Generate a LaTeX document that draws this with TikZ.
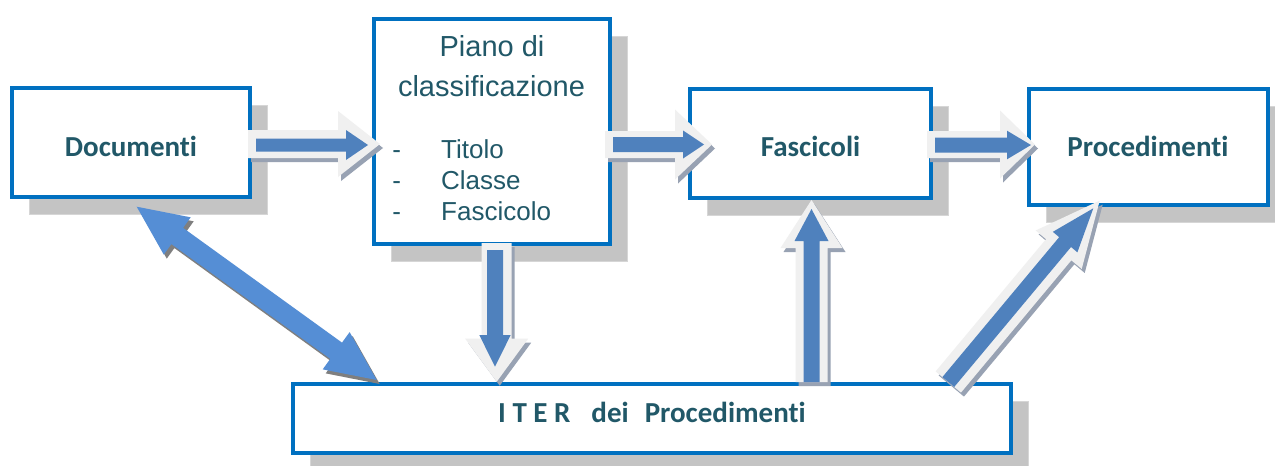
\documentclass[tikz,border=0pt]{standalone}
\usepackage{fontspec}
\newfontfamily\carl[Ligatures=NoCommon]{Carlito}
\newfontfamily\libs{Liberation Sans}
\usetikzlibrary{calc,shadows}
\definecolor{boxblue}{HTML}{0070C0}
\definecolor{txt}{HTML}{215868}
\definecolor{shade}{HTML}{C4C4C4}
\definecolor{shadeedge}{HTML}{D6D6D6}
\definecolor{arrblue}{HTML}{4F81BD}
\definecolor{glow}{HTML}{F0F0F0}
\definecolor{ashadow}{HTML}{98A2B3}
\definecolor{dblue}{HTML}{558ED5}
\definecolor{dshadow}{HTML}{7F7F7F}
% single block arrow: style, start, tip, shaft half width, head half width, head length
\newcommand\blk[6]{%
  \coordinate (bkb) at ($(#3)!#6!(#2)$);
  \path[#1] ($(#2)!#4!90:(#3)$) -- ($(bkb)!#4!90:(#3)$) -- ($(bkb)!#5!90:(#3)$) -- (#3)
    -- ($(bkb)!#5!-90:(#3)$) -- ($(bkb)!#4!-90:(#3)$) -- ($(#2)!#4!-90:(#3)$) -- cycle;}
% double block arrow: style, tip1, tip2, shaft half width, head half width, head length
\newcommand\dblk[6]{%
  \coordinate (dka) at ($(#2)!#6!(#3)$);
  \coordinate (dkb) at ($(#3)!#6!(#2)$);
  \path[#1] (#2) -- ($(dka)!#5!90:(#3)$) -- ($(dka)!#4!90:(#3)$) -- ($(dkb)!#4!-90:(#2)$)
    -- ($(dkb)!#5!-90:(#2)$) -- (#3) -- ($(dkb)!#5!90:(#2)$) -- ($(dkb)!#4!90:(#2)$)
    -- ($(dka)!#4!-90:(#3)$) -- ($(dka)!#5!-90:(#3)$) -- cycle;}
\begin{document}
\begin{tikzpicture}[x=1pt,y=-1pt,
  box/.style={draw=boxblue, line width=4pt, fill=white, inner sep=0pt, outer sep=0pt,
    general shadow={fill=shade, draw=shadeedge, line width=1pt, shadow xshift=17pt, shadow yshift=-17pt}},
  lbl/.style={font=\carl\bfseries\fontsize{29}{34}\selectfont, text=txt, inner sep=0pt, anchor=base},
  head/.style={font=\libs\fontsize{29}{34}\selectfont, text=txt, inner sep=0pt, anchor=base},
  item/.style={font=\libs\fontsize{26}{31}\selectfont, text=txt, inner sep=0pt, anchor=base west},
  arrshadow/.style={fill=ashadow, transform canvas={xshift=3pt,yshift=-4pt}},
  arrglow/.style={fill=glow},
  arrinner/.style={fill=arrblue},
  dshad/.style={fill=dshadow, transform canvas={xshift=3pt,yshift=-4pt}},
  dfill/.style={fill=dblue}]
\fill[white] (0,0) rectangle (1275,466);
\useasboundingbox (0,0) rectangle (1275,466);

% boxes
\node[box, minimum width=238pt, minimum height=109pt] (doc) at (131,142.5) {};
\node[box, minimum width=236pt, minimum height=225pt] (piano) at (492,131.5) {};
\node[box, minimum width=241pt, minimum height=109pt] (fasc) at (810.5,143.5) {};
\node[box, minimum width=239pt, minimum height=116pt] (proc) at (1148.5,147) {};
\node[box, minimum width=718pt, minimum height=69pt] (iter) at (652,418.5) {};

% texts
\node[lbl] (docT) at (131,156) {Documenti};
\node[lbl] (fascT) at (810.5,156) {Fascicoli};
\node[lbl] (procT) at (1148,156) {Procedimenti};
\node[lbl] (iterT) at (652,422.7) {I T E R\hspace{21pt}dei\hspace{16pt}Procedimenti};
\node[head] (pianoT1) at (492,56.7) {Piano di};
\node[head] (pianoT2) at (491.5,96) {classificazione};
\node[item] (d1) at (392.2,158.3) {-};
\node[item] (d2) at (392.2,189.3) {-};
\node[item] (d3) at (392.2,220.7) {-};
\node[item] (i1) at (441,158.3) {Titolo};
\node[item] (i2) at (441,189.3) {Classe};
\node[item] (i3) at (441,220.7) {Fascicolo};

% connector end points
\coordinate (aAo1) at (248,144);   \coordinate (aAo2) at (380,144);
\coordinate (aAi1) at (256,145);   \coordinate (aAi2) at (368,145);
\coordinate (aBo1) at (605,144.5); \coordinate (aBo2) at (712,144.5);
\coordinate (aBi1) at (613,144.5); \coordinate (aBi2) at (704,144.5);
\coordinate (aCo1) at (927,144.5); \coordinate (aCo2) at (1035,144.5);
\coordinate (aCi1) at (935,145);   \coordinate (aCi2) at (1031,145);
\coordinate (aDo1) at (496.7,243); \coordinate (aDo2) at (496.7,381.7);
\coordinate (aDi1) at (495,250);   \coordinate (aDi2) at (495,366.7);
\coordinate (aEo1) at (811.5,382); \coordinate (aEo2) at (811.5,200);
\coordinate (aEi1) at (811.5,382); \coordinate (aEi2) at (811.5,209);
\coordinate (aFo1) at (948.3,382); \coordinate (aFo2) at (1099.7,200.6);
\coordinate (aFi1) at (948.3,382); \coordinate (aFi2) at (1093.3,208.3);
\coordinate (aG1) at (136.7,206.7); \coordinate (aG2) at (376.7,380);

% Documenti -> Piano
\blk{arrshadow}{aAo1}{aAo2}{14pt}{33pt}{42pt}
\blk{arrglow}{aAo1}{aAo2}{14pt}{33pt}{42pt}
\blk{arrinner}{aAi1}{aAi2}{6.5pt}{15pt}{22pt}
% Piano -> Fascicoli
\blk{arrshadow}{aBo1}{aBo2}{13.5pt}{35pt}{37pt}
\blk{arrglow}{aBo1}{aBo2}{13.5pt}{35pt}{37pt}
\blk{arrinner}{aBi1}{aBi2}{7.5pt}{14pt}{21pt}
% Fascicoli -> Procedimenti
\blk{arrshadow}{aCo1}{aCo2}{13.5pt}{34pt}{35pt}
\blk{arrglow}{aCo1}{aCo2}{13.5pt}{34pt}{35pt}
\blk{arrinner}{aCi1}{aCi2}{7.5pt}{14.3pt}{24pt}
% Piano -> ITER
\blk{arrshadow}{aDo1}{aDo2}{15pt}{31.5pt}{43pt}
\blk{arrglow}{aDo1}{aDo2}{15pt}{31.5pt}{43pt}
\blk{arrinner}{aDi1}{aDi2}{8pt}{15.7pt}{31.7pt}
% ITER -> Fascicoli
\blk{arrshadow}{aEo1}{aEo2}{16pt}{31pt}{48pt}
\blk{arrglow}{aEo1}{aEo2}{16pt}{31pt}{48pt}
\blk{arrinner}{aEi1}{aEi2}{8pt}{17pt}{32pt}
% ITER -> Procedimenti
\blk{arrshadow}{aFo1}{aFo2}{16.5pt}{30pt}{64pt}
\blk{arrglow}{aFo1}{aFo2}{16.5pt}{30pt}{64pt}
\blk{arrinner}{aFi1}{aFi2}{7.7pt}{16pt}{44pt}
% Documenti <-> ITER
\dblk{dshad}{aG1}{aG2}{10pt}{23pt}{50pt}
\dblk{dfill}{aG1}{aG2}{10pt}{23pt}{50pt}
\end{tikzpicture}
\end{document}
